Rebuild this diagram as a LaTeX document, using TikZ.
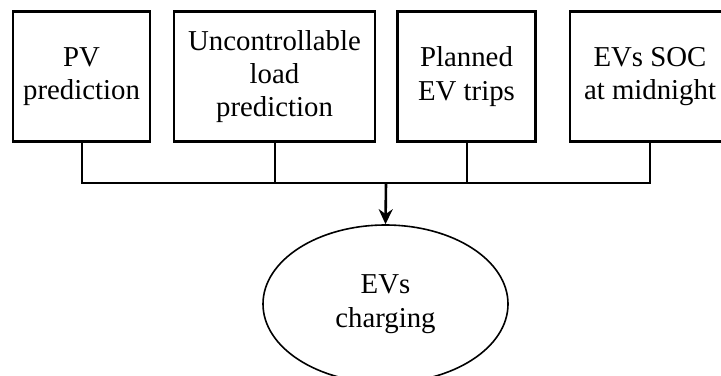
\documentclass[tikz,border=0pt]{standalone}
\usepackage{fontspec}
\setmainfont{Liberation Serif}
\usetikzlibrary{shapes.geometric,arrows.meta}

\begin{document}
\begin{tikzpicture}[x=0.5pt, y=-0.5pt, font=\fontsize{14.4}{16.7}\selectfont,
  every node/.style={align=center, inner sep=2pt},
  box/.style={draw, line width=1.3pt, minimum height=65pt},
  >={Stealth[length=7.5pt,width=7pt]}]
\path[use as bounding box, clip] (0,0) rectangle (721,375);
\node[box, minimum width=68.5pt] (PV) at (81.5,76.5) {PV\\ prediction};
\node[box, minimum width=100.5pt] (UL) at (274.5,76.5) {Uncontrollable\\ load\\ prediction};
\node[box, minimum width=69pt] (ET) at (466.5,76.5) {Planned\\ EV trips};
\node[box, minimum width=80pt] (SOC) at (650,76.5) {EVs SOC\\ at midnight};
\node[draw, ellipse, line width=0.8pt, minimum width=122.5pt, minimum height=79pt] (CH) at (385.5,304) {EVs\\ charging};
\coordinate (J) at (386,183);
\draw[line width=1pt] (PV.south) |- (J) -| (SOC.south);
\draw[line width=1pt] (UL.south) -- (UL.south |- J); \draw[line width=1pt] (ET.south) -- (ET.south |- J);
\draw[->, line width=1.3pt] (J) -- (CH.north);
\end{tikzpicture}
\end{document}
